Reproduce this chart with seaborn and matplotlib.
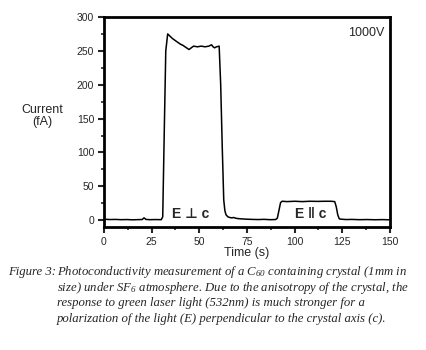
import matplotlib
matplotlib.use("Agg")
import matplotlib.pyplot as plt
from matplotlib.ticker import MultipleLocator
import seaborn as sns
import pandas as pd

# Photocurrent trace at 1000 V
time_s = [0, 3, 6, 9, 12, 15, 18, 20, 21, 22, 24, 27, 30, 30.8, 31.6, 32.4,
          33.4, 34.5, 36, 38, 40, 41.5, 43, 44.6, 46, 47, 49, 51, 53, 55,
          56.4, 57.2, 58, 59, 60.4, 61.2, 62.0, 62.8, 63.4, 64, 65, 66, 67,
          68, 69, 70, 72, 75, 78, 81, 84, 87, 90, 90.9, 91.8, 92.6, 93.4, 96,
          100, 104, 108, 112, 116, 119, 121, 121.8, 122.6, 123.4, 124.5, 127,
          130, 134, 138, 142, 146, 150]
current_fA = [1.5, 1.0, 1.2, 0.8, 1.0, 0.6, 0.9, 1.0, 3.5, 1.2, 0.8, 1.0, 0.8,
              5, 130, 250, 275, 272, 268, 264, 260, 258, 255, 252, 255, 257,
              256, 257, 256, 257, 259, 256, 254.5, 256, 257, 200, 110, 30, 14,
              8, 5, 4, 3.5, 4, 3, 2.5, 2, 1.5, 1.2, 1.0, 1.3, 0.8, 1.0, 3, 15,
              26, 28, 27.5, 28, 27.5, 28, 27.8, 28, 28, 27.5, 20, 8, 2, 1.5,
              1.0, 1.2, 0.8, 1.0, 0.7, 0.9, 0.6]

x_ticks = [0, 25, 50, 75, 100, 125, 150]
y_ticks = [0, 50, 100, 150, 200, 250, 300]

caption_lines = [
    "Photoconductivity measurement of a C$_{60}$ containing crystal (1mm in",
    "size) under SF$_{6}$ atmosphere. Due to the anisotropy of the crystal, the",
    "response to green laser light (532nm) is much stronger for a",
    "polarization of the light (E) perpendicular to the crystal axis (c).",
]

sns.set_style("white")
plt.rcParams["font.family"] = ["Liberation Sans", "DejaVu Sans"]
plt.rcParams["mathtext.fontset"] = "custom"
plt.rcParams["mathtext.it"] = "Liberation Serif:italic"
plt.rcParams["mathtext.rm"] = "Liberation Serif:italic"
plt.rcParams["mathtext.default"] = "it"

df = pd.DataFrame({"time": time_s, "current": current_fA})

fig = plt.figure(figsize=(4.27, 3.5), dpi=100)
ax = fig.add_axes([104 / 427, 1 - 227 / 350, 286 / 427, 210 / 350])
sns.lineplot(data=df, x="time", y="current", ax=ax, color="black", lw=1.1)

ax.set_xlim(0, 150)
ax.set_ylim(-10, 300)
ax.set_xticks(x_ticks)
ax.set_yticks(y_ticks)
ax.xaxis.set_minor_locator(MultipleLocator(12.5))
ax.yaxis.set_minor_locator(MultipleLocator(25))
ax.tick_params(which="major", direction="out", length=4, width=1.5,
               labelsize=7.5, pad=3, bottom=True, left=True)
ax.tick_params(which="minor", direction="out", length=2.5, width=1.2,
               bottom=True, left=True)
for sp in ax.spines.values():
    sp.set_linewidth(2.0)
    sp.set_color("black")

ax.set_xlabel("")
ax.set_ylabel("")
fig.text(247 / 427, 1 - 253 / 350, "Time (s)", ha="center", va="center",
         fontsize=9)
fig.text(42 / 427, 1 - 116 / 350, "Current\n(fA)", ha="center", va="center",
         fontsize=9, linespacing=1.0)

label_font = dict(ha="center", va="center", fontsize=10, fontweight="bold",
                  family=["Liberation Sans", "DejaVu Sans"])
ax.text(45.6, 9, "E \u22a5 c", **label_font)
ax.text(108.5, 9, "E \u2016 c", **label_font)
ax.text(147, 277, "1000V", ha="right", va="center", fontsize=9)

cap_font = dict(fontsize=9.2, family=["Liberation Serif"], style="italic",
                va="center", ha="left")
fig.text(8 / 427, 1 - 272 / 350, "Figure 3:", **cap_font)
for i, line in enumerate(caption_lines):
    fig.text(57 / 427, 1 - (272 + 15.7 * i) / 350, line, **cap_font)

fig.savefig("out.png", dpi=100)
